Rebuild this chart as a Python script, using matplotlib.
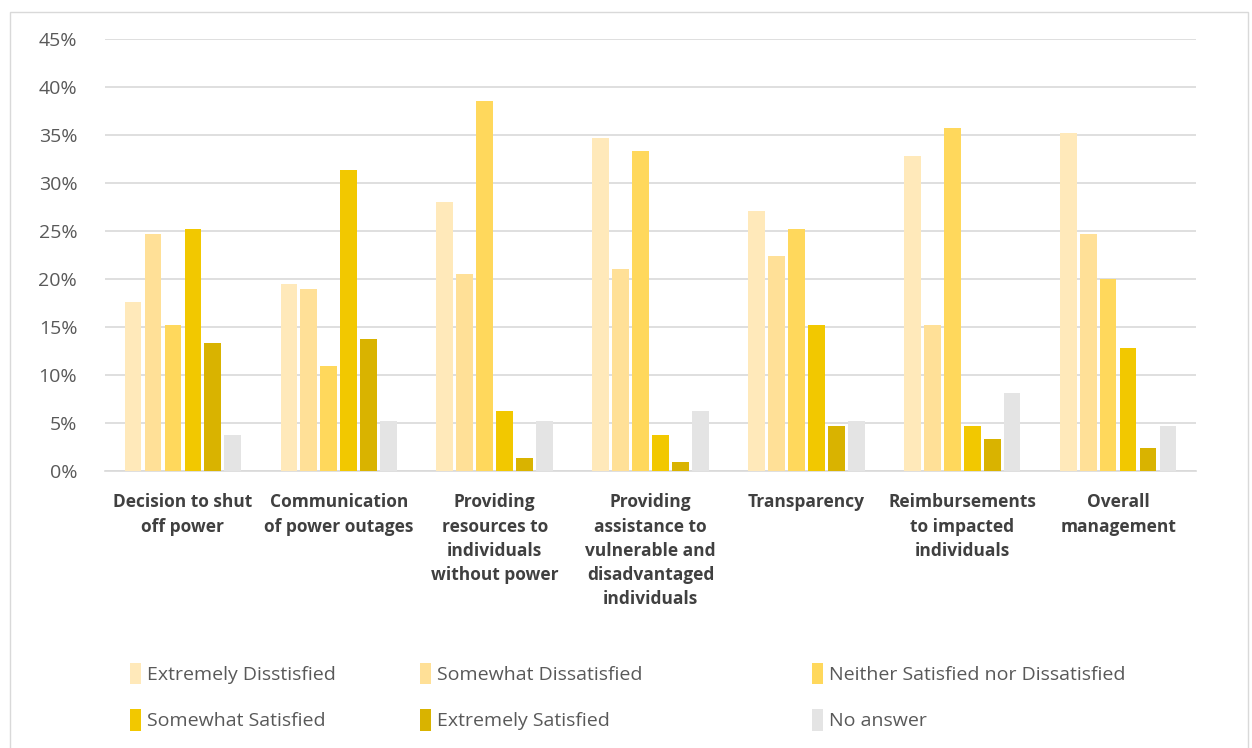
import numpy as np
import matplotlib.pyplot as plt
from matplotlib.patches import Patch, Rectangle
from matplotlib.ticker import FuncFormatter

categories = ['Decision to shut\noff power', 'Communication\nof power outages',
              'Providing\nresources to\nindividuals\nwithout power',
              'Providing\nassistance to\nvulnerable and\ndisadvantaged\nindividuals',
              'Transparency', 'Reimbursements\nto impacted\nindividuals', 'Overall\nmanagement']
series = ['Extremely Disstisfied', 'Somewhat Dissatisfied', 'Neither Satisfied nor Dissatisfied',
          'Somewhat Satisfied', 'Extremely Satisfied', 'No answer']
extremely_dis = [17.6, 19.5, 28.0, 34.7, 27.1, 32.8, 35.2]
somewhat_dis = [24.7, 19.0, 20.5, 21.0, 22.4, 15.2, 24.7]
neither = [15.2, 10.9, 38.5, 33.3, 25.2, 35.7, 20.0]
somewhat_sat = [25.2, 31.4, 6.2, 3.8, 15.2, 4.7, 12.8]
extremely_sat = [13.3, 13.8, 1.4, 0.9, 4.7, 3.3, 2.4]
no_answer = [3.8, 5.2, 5.2, 6.2, 5.2, 8.1, 4.7]
values = [extremely_dis, somewhat_dis, neither, somewhat_sat, extremely_sat, no_answer]
colors = ['#FFE9BA', '#FFE097', '#FFD85C', '#F2C800', '#D9B300', '#E4E4E4']

plt.rcParams['font.family'] = ['Open Sans', 'DejaVu Sans']
fig = plt.figure(figsize=(12.52, 7.48), dpi=100)
ax = fig.add_axes([105 / 1252, 277 / 748, 1091 / 1252, 432 / 748])

x = np.arange(len(categories))
slot = 0.128
for i, (vals, c) in enumerate(zip(values, colors)):
    ax.bar(x + (i - 2.5) * slot, vals, width=slot * 0.84, color=c, zorder=3)

ax.set_xlim(-0.5, len(categories) - 0.5)
ax.set_ylim(0, 45)
ax.set_yticks(np.arange(0, 46, 5))
ax.yaxis.set_major_formatter(FuncFormatter(lambda v, p: f'{v:.0f}%'))
ax.grid(axis='y', color='#D9D9D9', linewidth=1.2, zorder=0)
for s in ['top', 'right', 'left']:
    ax.spines[s].set_visible(False)
ax.spines['bottom'].set_color('#D9D9D9')
ax.spines['bottom'].set_linewidth(1.2)
ax.tick_params(axis='y', length=0, labelsize=14, labelcolor='#595959', pad=20)
ax.tick_params(axis='x', length=0, pad=16)
ax.set_xticks(x)
ax.set_xticklabels(categories, fontsize=12.5, fontweight='bold', color='#404040',
                   va='top', linespacing=1.45)

# legend: three columns placed at fixed positions, filled row-wise
col_x = [112, 402, 794]
for k in range(3):
    hs = [Patch(facecolor=colors[k], label=series[k]),
          Patch(facecolor=colors[k + 3], label=series[k + 3])]
    fig.legend(handles=hs, loc='lower left', bbox_to_anchor=(col_x[k] / 1252, 0),
               frameon=False, fontsize=14, labelcolor='#595959', handlelength=0.6,
               handleheight=1.3, handletextpad=0.3, labelspacing=1.3)

fig.add_artist(Rectangle((10 / 1252, -0.01), 1238 / 1252, 1.0 - 12 / 748 + 0.01,
                         transform=fig.transFigure, fill=False, edgecolor='#D9D9D9', linewidth=1))

fig.savefig('out.png', dpi=100)
